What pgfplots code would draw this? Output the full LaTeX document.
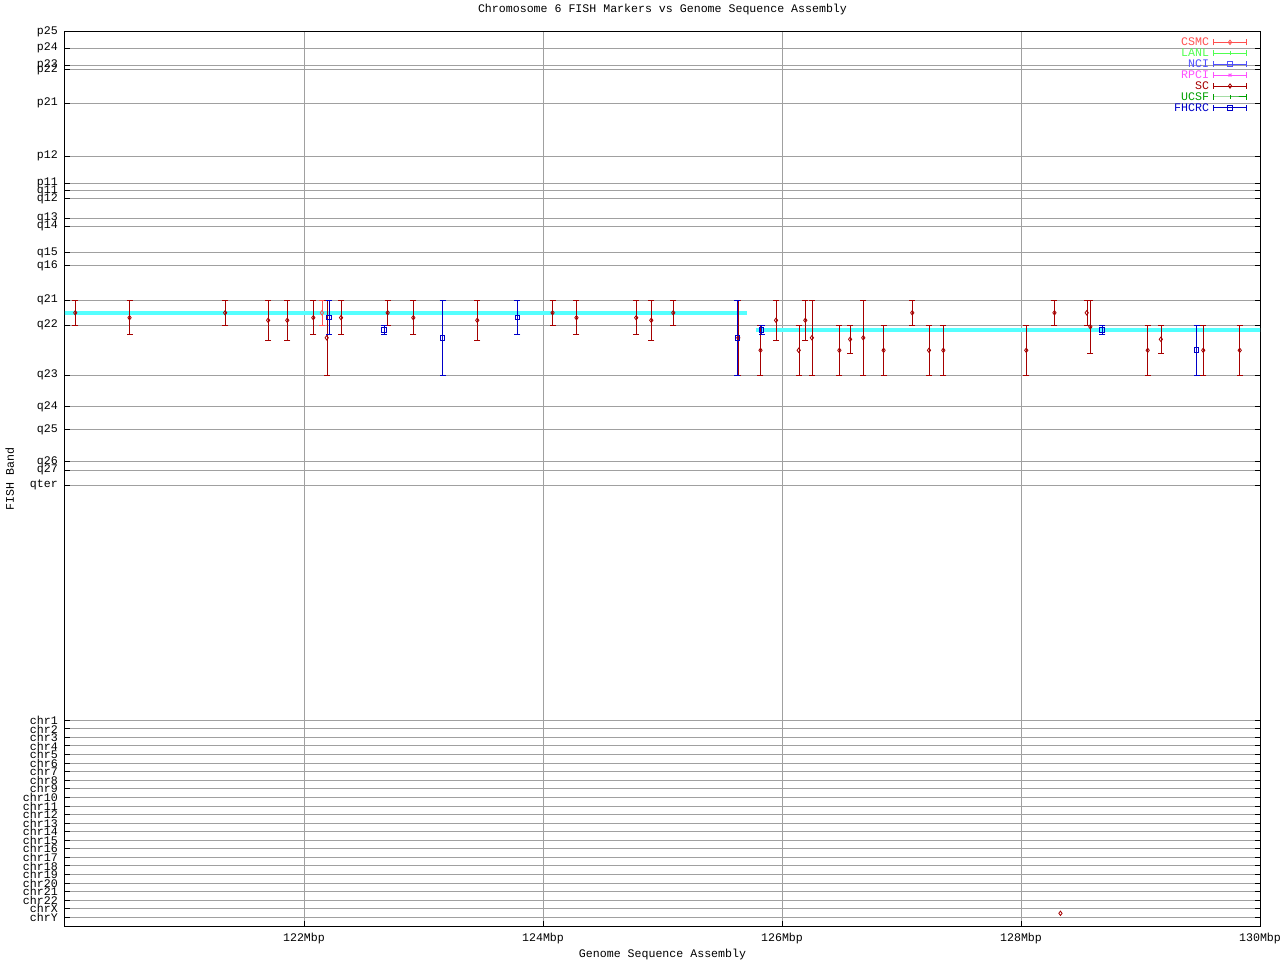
\documentclass[border=0pt]{standalone}
\usepackage{fontspec}
\setmainfont{Liberation Mono}
\setmonofont{Liberation Mono}
\usepackage{pgfplots}
\pgfplotsset{compat=1.18}
\usepackage{pgfplotstable}
\definecolor{csmc}{RGB}{255,80,80}
\definecolor{lanl}{RGB}{80,255,80}
\definecolor{nci}{RGB}{80,80,255}
\definecolor{rpci}{RGB}{255,80,255}
\definecolor{sc}{RGB}{165,0,0}
\definecolor{ucsf}{RGB}{0,160,0}
\definecolor{fhcrc}{RGB}{0,0,200}
\definecolor{cyanband}{RGB}{85,255,255}
\definecolor{gridgray}{RGB}{160,160,160}

% y values are band positions (px from top of the figure)
\pgfplotstableread{
x y lo hi
120.086 312.8 300.3 325.3
120.54 317.7 300.3 335
121.34 312.8 300.3 325.3
121.70 320.3 300.3 340.3
121.86 320.3 300.3 340.3
122.078 317.7 300.3 335
122.19 337.8 300.3 375.3
122.31 317.7 300.3 335
122.70 312.8 300.3 325.3
122.915 317.7 300.3 335
123.45 320.3 300.3 340.3
124.08 312.8 300.3 325.3
124.28 317.7 300.3 335
124.78 317.7 300.3 335
124.906 320.3 300.3 340.3
125.09 312.8 300.3 325.3
125.634 337.8 300.3 375.3
125.82 350.3 325.3 375.3
125.95 320.3 300.3 340.3
126.14 350.3 325.3 375.3
126.195 320.3 300.3 340.3
126.25 337.8 300.3 375.3
126.48 350.3 325.3 375.3
126.57 339.3 325.3 353.3
126.68 337.8 300.3 375.3
126.85 350.3 325.3 375.3
127.09 312.8 300.3 325.3
127.23 350.3 325.3 375.3
127.35 350.3 325.3 375.3
128.044 350.3 325.3 375.3
128.28 312.8 300.3 325.3
128.55 312.8 300.3 325.3
128.58 326.8 300.3 353.3
129.06 350.3 325.3 375.3
129.17 339.3 325.3 353.3
129.525 350.3 325.3 375.3
129.83 350.3 325.3 375.3
}\scdata

\pgfplotstableread{
x y
128.33 913.3
}\scchr

\pgfplotstableread{
x y lo hi
122.21 317.7 300.3 335
122.67 330.2 325.3 335
123.16 337.8 300.3 375.3
123.785 317.7 300.3 335
125.626 337.8 300.3 375.3
125.83 330.2 325.3 335
128.68 330.2 325.3 335
129.47 350.3 325.3 375.3
}\fhcrcdata

\pgfplotstableread{
x y lo hi
122.15 312.8 300.3 325.3
}\csmcdata

\begin{document}
\begin{tikzpicture}[font=\fontsize{11.6}{12}\selectfont]
\begin{axis}[
  name=ax,
  scale only axis, width=1195pt, height=894pt,
  xmin=120, xmax=130, ymin=-926, ymax=-32,
  axis line style={black, line width=1pt},
  xtick={122,124,126,128,130},
  xticklabels={122Mbp,124Mbp,126Mbp,128Mbp,130Mbp},
  ytick={-32,-48.3,-65.3,-70,-103.3,-156.3,-183.3,-191,-199,-218.3,-226.3,-252.7,-266,-300.3,-325.3,-375.3,-407,-430,-462,-470.3,-485.3,
    -720.3,-728.9,-737.4,-746.0,-754.6,-763.1,-771.7,-780.3,-788.8,-797.4,-806.0,-814.5,-823.1,-831.6,-840.2,-848.8,-857.3,-865.9,-874.5,-883.0,-891.6,-900.2,-908.7,-917.3},
  yticklabels={p25,p24,p23,p22,p21,p12,p11,q11,q12,q13,q14,q15,q16,q21,q22,q23,q24,q25,q26,q27,qter,
    chr1,chr2,chr3,chr4,chr5,chr6,chr7,chr8,chr9,chr10,chr11,chr12,chr13,chr14,chr15,chr16,chr17,chr18,chr19,chr20,chr21,chr22,chrX,chrY},
  grid=major, major grid style={gridgray, line width=1pt},
  tick style={black, line width=1pt}, major tick length=5pt,
  xtick pos=bottom,
  yticklabel style={anchor=east, inner sep=0pt, xshift=-7pt},
  xticklabel style={anchor=base, inner sep=0pt, yshift=-15pt},
  title={Chromosome 6 FISH Markers vs Genome Sequence Assembly},
  title style={at={(axis description cs:0.5,1.01454)}, anchor=base, inner sep=0pt},
  xlabel={Genome Sequence Assembly},
  xlabel style={at={(axis description cs:0.5,-0.03468)}, anchor=base, inner sep=0pt},
  ylabel={FISH Band},
  ylabel style={at={(axis description cs:-0.0427,0.5)}, anchor=base, inner sep=0pt},
  legend cell align=right,
  legend plot pos=right,
  legend style={draw=none, fill=none, at={(axis description cs:1,1)}, anchor=north east,
    xshift=-13pt, yshift=-6.2pt, inner sep=0pt, outer sep=0pt, row sep=1.7pt, column sep=4pt,
    nodes={inner sep=0pt}},
  legend image code/.code={
    \draw[#1,mark=none] (0pt,-2.5pt)--(0pt,3.5pt);
    \draw[#1,mark=none] (33pt,-2.5pt)--(33pt,3.5pt);
    \draw[mark repeat=2,mark phase=2,#1] plot coordinates {(0pt,0.5pt)(16.5pt,0.5pt)(33pt,0.5pt)};
  },
  every axis plot/.append style={line width=1pt},
]
\addlegendimage{csmc, mark=diamond, mark size=2.2pt, mark options={fill=white, line width=0.8pt}}
\addlegendentry{\textcolor{csmc}{CSMC}}
\addlegendimage{lanl, mark=|, mark size=2pt}
\addlegendentry{\textcolor{lanl}{LANL}}
\addlegendimage{nci, mark=square, mark size=2.3pt}
\addlegendentry{\textcolor{nci}{NCI}}
\addlegendimage{rpci, mark=x, mark size=2pt}
\addlegendentry{\textcolor{rpci}{RPCI}}
\addlegendimage{sc, mark=diamond, mark size=2.2pt, mark options={fill=white, line width=0.8pt}}
\addlegendentry{\textcolor{sc}{SC}}
\addlegendimage{ucsf, mark=|, mark size=2pt}
\addlegendentry{\textcolor{ucsf}{UCSF}}
\addlegendimage{fhcrc, mark=square, mark size=2.3pt}
\addlegendentry{\textcolor{fhcrc}{FHCRC}}

% CSMC (drawn first, marker hidden under the band)
\addplot[forget plot, csmc, only marks, mark=diamond, mark size=2.2pt, mark options={fill=white, line width=0.8pt},
  error bars/.cd, y dir=both, y explicit, error mark options={rotate=90, csmc, mark size=3pt, line width=1pt}]
  table[x=x, y expr=-\thisrow{y}, y error plus expr=\thisrow{y}-\thisrow{lo}, y error minus expr=\thisrow{hi}-\thisrow{y}] {\csmcdata};

% assembly placement bands
\addplot[forget plot, cyanband, line width=4pt, mark=none] coordinates {(119.9,-313.3) (125.71,-313.3)};
\addplot[forget plot, cyanband, line width=4pt, mark=none] coordinates {(125.78,-330) (130.1,-330)};

% SC
\addplot[forget plot, sc, only marks, mark=diamond, mark size=2.2pt, mark options={fill=white, line width=0.8pt},
  error bars/.cd, y dir=both, y explicit, error mark options={rotate=90, sc, mark size=3pt, line width=1pt}]
  table[x=x, y expr=-\thisrow{y}, y error plus expr=\thisrow{y}-\thisrow{lo}, y error minus expr=\thisrow{hi}-\thisrow{y}] {\scdata};
\addplot[forget plot, sc, only marks, mark=diamond, mark size=2.2pt, mark options={fill=white, line width=0.8pt}]
  table[x=x, y expr=-\thisrow{y}] {\scchr};

% FHCRC
\addplot[forget plot, fhcrc, only marks, mark=square, mark size=2.3pt, mark options={fill=white},
  error bars/.cd, y dir=both, y explicit, error mark options={rotate=90, fhcrc, mark size=3pt, line width=1pt}]
  table[x=x, y expr=-\thisrow{y}, y error plus expr=\thisrow{y}-\thisrow{lo}, y error minus expr=\thisrow{hi}-\thisrow{y}] {\fhcrcdata};
\end{axis}
\pgfresetboundingbox
\path ([xshift=-65pt,yshift=-34pt]ax.south west) rectangle ([xshift=20pt,yshift=32pt]ax.north east);
\end{tikzpicture}
\end{document}
